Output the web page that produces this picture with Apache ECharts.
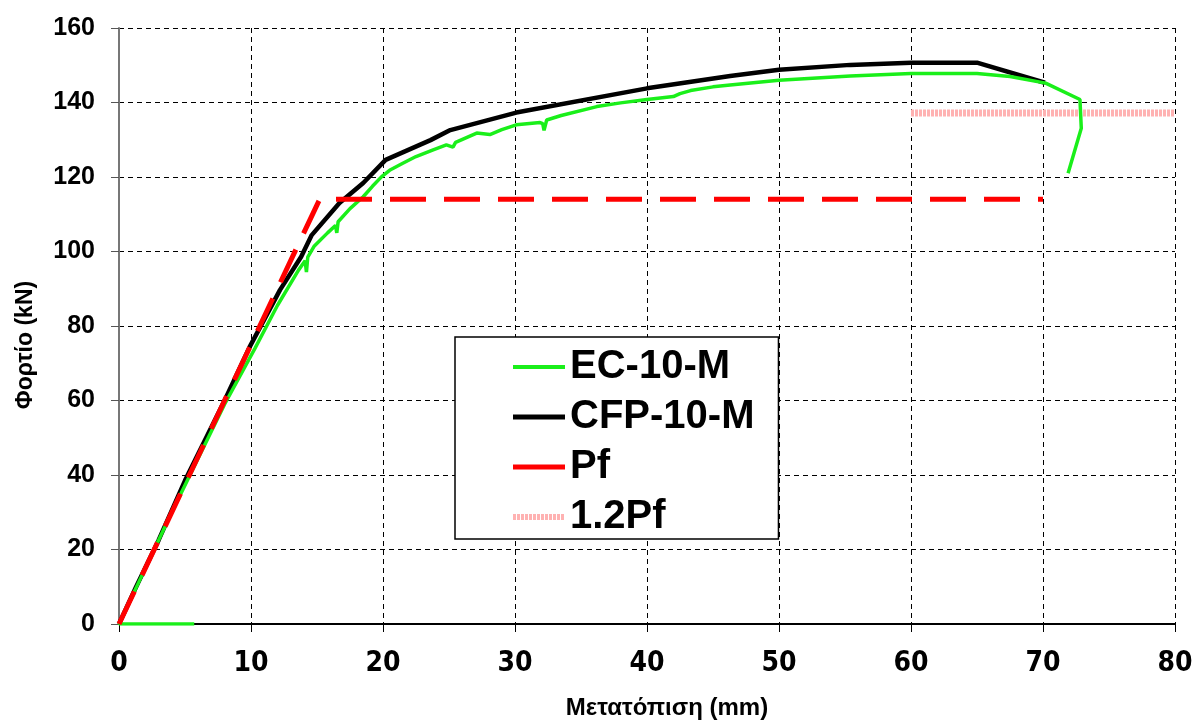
<!DOCTYPE html>
<html>
<head>
<meta charset="utf-8">
<script src="https://cdn.jsdelivr.net/npm/echarts@6/dist/echarts.min.js"></script>
<style>
  html, body { margin: 0; padding: 0; background: #fff; }
  #chart { width: 1192px; height: 722px; }
</style>
</head>
<body>
<div id="chart"></div>
<script>
// Load vs displacement data

const seriesNames = ['EC-10-M', 'CFP-10-M', 'Pf', '1.2Pf'];

// EC-10-M test curve [mm, kN]
const ecCurve = [
    [5.7, 0], [0, 0], [2, 15], [4, 30], [6, 44.5], [8, 59], [10.3, 74], [12, 85.5],
    [13.6, 95], [14.1, 97.5], [14.2, 94.5], [14.3, 98.5], [14.8, 101.5], [15.8, 105],
    [16.4, 107], [16.5, 105], [16.6, 108], [17.5, 111.5], [18.5, 114.7], [19.2, 117.5],
    [19.9, 120.1], [20.5, 121.8], [21.5, 123.7], [22.5, 125.5], [23.8, 127.3],
    [24.8, 128.6], [25.3, 128.0], [25.5, 129.3], [27.1, 131.8], [28.1, 131.4],
    [29, 132.7], [30.1, 134], [31.9, 134.6], [32.1, 134.3], [32.2, 132.5], [32.4, 135.3],
    [33.5, 136.5], [36.2, 138.9], [38, 139.9], [40, 140.8], [42, 141.6], [42.5, 142.4],
    [43.3, 143.2], [45, 144.2], [46.3, 144.7], [50, 146], [55.4, 147.1], [60, 147.8],
    [65, 147.8], [67.5, 147], [70.2, 145.2], [72.8, 140.8], [72.9, 133.1], [71.9, 121]
];

// CFP-10-M curve [mm, kN]
const cfpCurve = [
    [0, 0], [1.3, 10], [3, 22.5], [5, 38.5], [8, 60], [9.9, 74.4], [12.2, 89.7],
    [13.8, 98.6], [14.6, 104.4], [16.7, 113], [18.5, 118.4], [20.2, 124.6],
    [23.6, 129.9], [25.1, 132.6], [30.1, 137.3], [40, 143.8], [46.3, 147.1],
    [50, 148.8], [55.4, 150.1], [60, 150.7], [65, 150.7], [70.15, 145.3]
];

// Pf bilinear line and 1.2Pf level
const pfLine = [[0, 0], [15.2, 114], [70, 114]];
const pf12Line = [[60, 137.2], [80, 137.2]];

// axis ranges
const xRange = [0, 80, 10];
const yRange = [0, 160, 20];

const colors = ['#1aef1a', '#000000', '#ff0000', '#ffb2b2'];

const chart = echarts.init(document.getElementById('chart'));

const gridLine = { show: true, lineStyle: { color: '#000', width: 1, type: [5, 4] } };

const option = {
    animation: false,
    backgroundColor: '#fff',
    grid: { left: 119, right: 17, top: 28, bottom: 98, outerBoundsMode: 'none' },
    legend: {
        orient: 'vertical',
        left: 455,
        top: 337,
        padding: [10, 24, 2, 55],
        itemGap: 10,
        itemWidth: 52,
        itemHeight: 16,
        backgroundColor: '#fff',
        borderColor: '#000',
        borderWidth: 1.5,
        borderRadius: 0,
        itemStyle: { color: 'transparent', borderColor: 'transparent', borderWidth: 0 },
        textStyle: {
            fontFamily: 'Liberation Sans, Arial, sans-serif',
            fontWeight: 'bold',
            fontSize: 40,
            color: '#000'
        },
        data: [
            { name: seriesNames[0], lineStyle: { width: 4 } },
            { name: seriesNames[1], lineStyle: { width: 5 } },
            { name: seriesNames[2], lineStyle: { type: 'solid', width: 5 } },
            { name: seriesNames[3], lineStyle: { width: 6 } }
        ]
    },
    xAxis: {
        type: 'value',
        min: xRange[0], max: xRange[1], interval: xRange[2],
        name: 'Μετατόπιση (mm)',
        nameLocation: 'middle',
        nameGap: 72,
        nameTextStyle: {
            fontFamily: 'Liberation Sans, Arial, sans-serif',
            fontWeight: 'bold', fontSize: 24, color: '#000',
            padding: [0, 0, 0, 40]
        },
        axisLine: { lineStyle: { color: '#000', width: 2 } },
        axisTick: { show: true, length: 8, lineStyle: { color: '#000', width: 1 } },
        axisLabel: {
            margin: 26,
            fontFamily: 'Liberation Sans Narrow, DejaVu Sans Condensed, sans-serif',
            fontWeight: 'bold', fontSize: 28, color: '#000'
        },
        splitLine: gridLine
    },
    yAxis: {
        type: 'value',
        min: yRange[0], max: yRange[1], interval: yRange[2],
        name: 'Φορτίο (kN)',
        nameLocation: 'middle',
        nameGap: 82,
        nameRotate: 90,
        nameTextStyle: {
            fontFamily: 'Liberation Sans, Arial, sans-serif',
            fontWeight: 'bold', fontSize: 23, color: '#000',
            padding: [0, 38, 0, 0]
        },
        axisLine: { show: true, lineStyle: { color: '#777', width: 2 } },
        axisTick: { show: true, length: 8, lineStyle: { color: '#555', width: 1 } },
        axisLabel: {
            margin: 24,
            fontFamily: 'Liberation Sans, Arial, sans-serif',
            fontWeight: 'bold', fontSize: 25, color: '#000'
        },
        splitLine: gridLine
    },
    series: [
        {
            name: seriesNames[3],
            type: 'line',
            data: pf12Line,
            color: colors[3],
            showSymbol: false, symbol: 'none',
            lineStyle: { color: colors[3], width: 7, type: [3, 1] },
            z: 2
        },
        {
            name: seriesNames[2],
            type: 'line',
            data: pfLine,
            color: colors[2],
            showSymbol: false, symbol: 'none',
            lineStyle: { color: colors[2], width: 5, type: [36, 18] },
            z: 5
        },
        {
            name: seriesNames[1],
            type: 'line',
            data: cfpCurve,
            color: colors[1],
            showSymbol: false, symbol: 'none',
            lineStyle: { color: colors[1], width: 4.5 },
            z: 3
        },
        {
            name: seriesNames[0],
            type: 'line',
            data: ecCurve,
            color: colors[0],
            showSymbol: false, symbol: 'none',
            lineStyle: { color: colors[0], width: 3.5 },
            z: 4
        }
    ]
};

chart.setOption(option);
</script>
</body>
</html>
